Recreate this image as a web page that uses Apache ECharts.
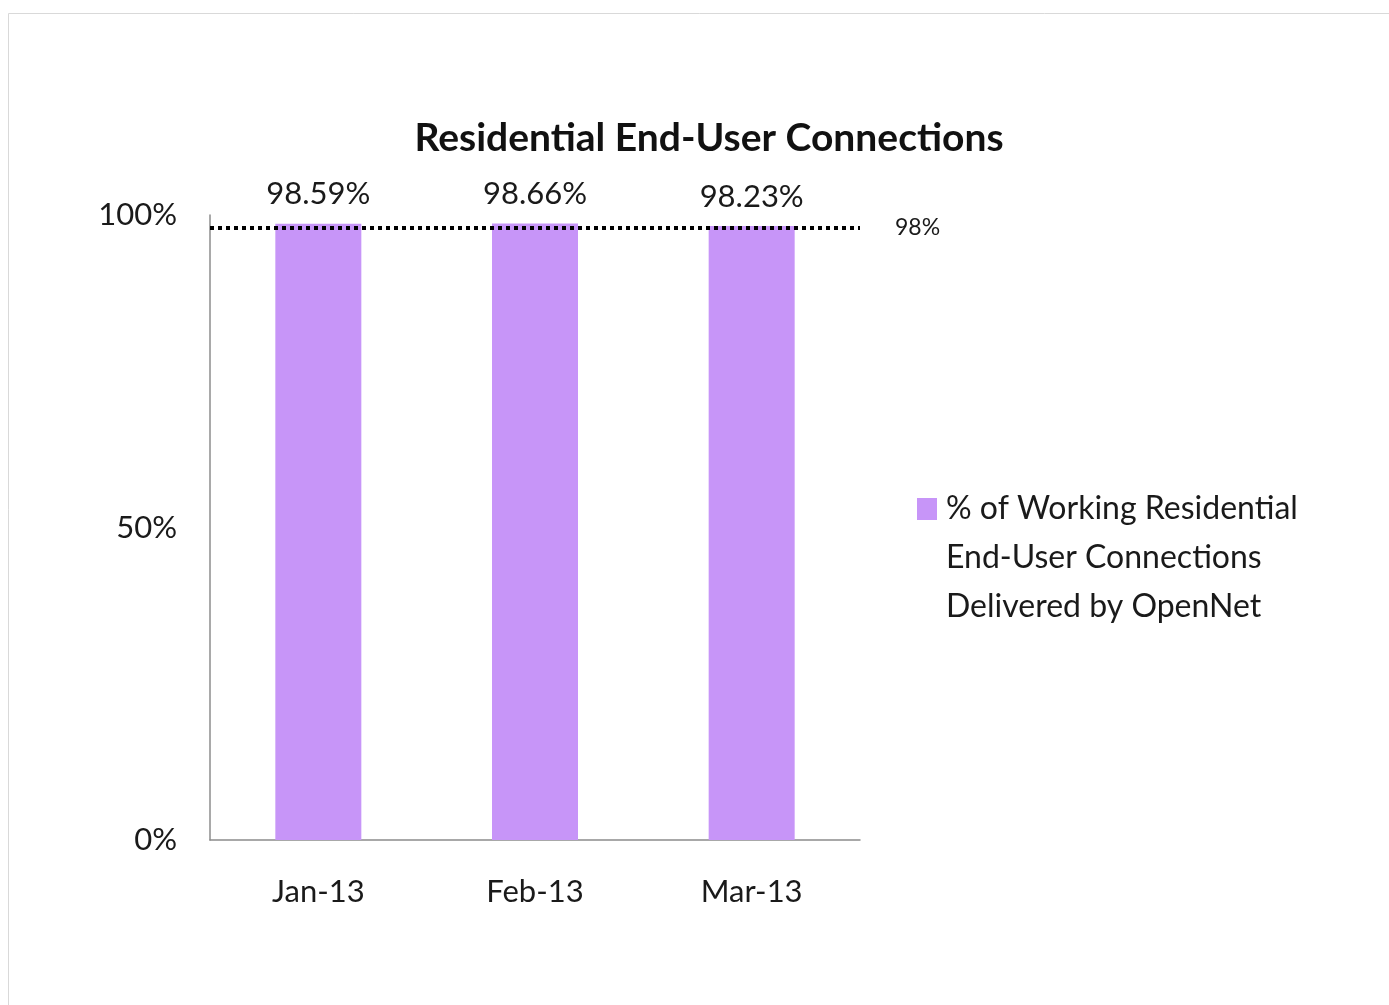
<!DOCTYPE html>
<html>
<head>
<meta charset="utf-8">
<title>Residential End-User Connections</title>
<script src="https://cdn.jsdelivr.net/npm/echarts@6/dist/echarts.min.js"></script>
<style>
  html, body { margin: 0; padding: 0; background: #fff; }
  #chart { width: 1389px; height: 1005px; }
</style>
</head>
<body>
<div id="chart"></div>
<script>
// data
const months = ['Jan-13', 'Feb-13', 'Mar-13']
const delivered = [98.59, 98.66, 98.23]
const target = 98
const yTicks = [0, 50, 100]
const seriesName = '% of Working Residential End-User Connections Delivered by OpenNet'
const legendLines = ['% of Working Residential', 'End-User Connections', 'Delivered by OpenNet']

const font = 'Lato, "Open Sans", sans-serif'
const barColor = '#c795f8'
const chart = echarts.init(document.getElementById('chart'))

const option = {
  backgroundColor: '#fff',
  animation: false,
  textStyle: { fontFamily: font, color: '#1a1a1a' },
  title: {
    text: 'Residential End-User Connections',
    left: 704,
    textAlign: 'center',
    top: 114,
    textStyle: { fontSize: 39, fontWeight: 'bold', color: '#111', fontFamily: font },
  },
  graphic: [
    {
      type: 'rect',
      shape: { x: 8.5, y: 13.5, width: 1400, height: 1100 },
      style: { fill: 'none', stroke: '#d9d9d9', lineWidth: 1 },
      silent: true,
    },
  ],
  legend: {
    left: 907,
    top: 488,
    itemWidth: 0,
    itemHeight: 0,
    itemStyle: { opacity: 0 },
    data: [seriesName],
    formatter: () =>
      legendLines
        .map((l, i) => (i === 0 ? '{sq|}{gap|}' : '{pad|}') + '{t|' + l + '}')
        .join('\n'),
    textStyle: {
      rich: {
        sq: { width: 20, height: 22, backgroundColor: barColor },
        gap: { width: 9 },
        pad: { width: 29 },
        t: { fontSize: 32, lineHeight: 49, color: '#1a1a1a', fontFamily: font },
      },
    },
  },
  grid: { left: 210, right: 529, top: 215, bottom: 165 },
  xAxis: {
    type: 'category',
    data: months,
    axisLine: { lineStyle: { color: '#8c8c8c', width: 1.5 } },
    axisTick: { show: false },
    axisLabel: { fontSize: 31, color: '#1a1a1a', margin: 36, fontFamily: font },
  },
  yAxis: {
    type: 'value',
    min: yTicks[0],
    max: yTicks[yTicks.length - 1],
    interval: 50,
    splitLine: { show: false },
    axisLine: { show: true, lineStyle: { color: '#8c8c8c', width: 1.5 } },
    axisTick: { show: false },
    axisLabel: {
      fontSize: 31,
      color: '#1a1a1a',
      margin: 33,
      fontFamily: font,
      formatter: '{value}%',
    },
  },
  series: [
    {
      name: seriesName,
      type: 'bar',
      data: delivered,
      barWidth: 86,
      itemStyle: { color: barColor },
      label: {
        show: true,
        position: 'top',
        distance: 14,
        fontSize: 31,
        color: '#1a1a1a',
        fontFamily: font,
        formatter: (p) => p.value.toFixed(2) + '%',
      },
      markLine: {
        silent: true,
        symbol: 'none',
        z: 10,
        data: [{ yAxis: target }],
        lineStyle: { color: '#000', type: [4, 4], width: 4 },
        label: {
          show: true,
          position: 'end',
          distance: 35,
          formatter: target + '%',
          fontSize: 23,
          color: '#1a1a1a',
          fontFamily: font,
        },
      },
    },
  ],
}

chart.setOption(option)
</script>
</body>
</html>
